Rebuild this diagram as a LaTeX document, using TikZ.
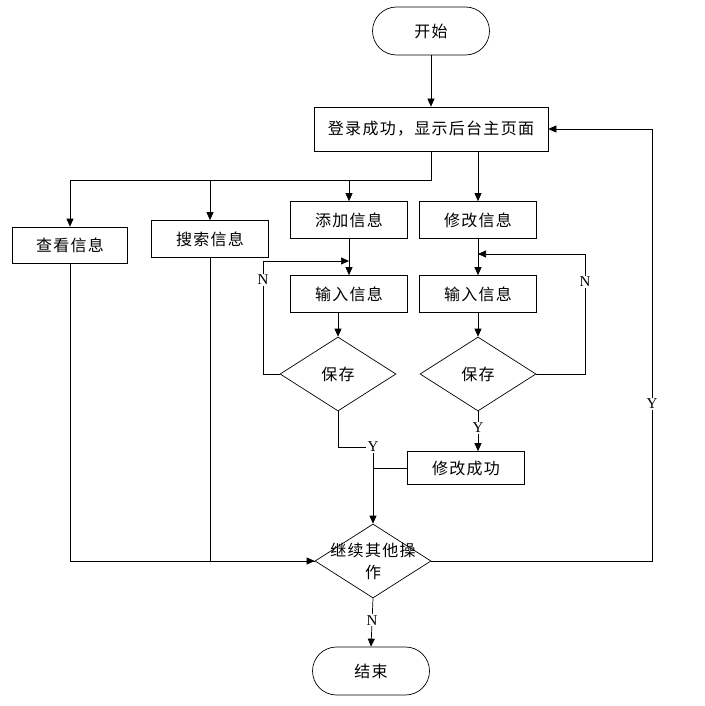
\documentclass[tikz,border=0pt]{standalone}
\usepackage{fontspec}
\setmainfont{Liberation Serif}
\newfontfamily\cjk[LetterSpace=8]{Noto Sans CJK SC}
\usetikzlibrary{shapes.geometric,arrows.meta}

\begin{document}
\begin{tikzpicture}[x=1pt,y=-1pt,>={Triangle[length=8pt,width=7pt]},line width=0.7pt]
	\tikzset{every node/.style={font=\cjk\fontsize{16}{22}\selectfont}}
	\tikzset{box/.style={draw,minimum width=117pt,minimum height=37pt,inner sep=0pt}}
	\tikzset{term/.style={draw,rounded corners=24pt,minimum width=117pt,minimum height=48pt,inner sep=0pt}}
	\tikzset{dec/.style={draw,diamond,minimum width=116pt,minimum height=74pt,inner sep=0pt}}
	\tikzset{lbl/.style={fill=white,inner sep=1pt,font=\fontsize{15}{18}\selectfont}}
	\useasboundingbox (0,0) rectangle (704,706);

	% nodes
	\node[term] (start) at (431,31) {开始};
	\node[box,minimum width=234pt,minimum height=44pt] (login) at (431,129) {登录成功，显示后台主页面};
	\node[box,minimum width=115pt,minimum height=36pt] (view) at (70,245) {查看信息};
	\node[box] (search) at (210,239) {搜索信息};
	\node[box] (add) at (349,220) {添加信息};
	\node[box] (edit) at (478,220) {修改信息};
	\node[box] (in1) at (349,294) {输入信息};
	\node[box] (in2) at (478,294) {输入信息};
	\node[dec] (save1) at (338,374) {保存};
	\node[dec] (save2) at (478,374) {保存};
	\node[box,minimum height=33pt] (ok) at (466,468) {修改成功};
	\node[dec,label={[align=center]center:继续其他操\\作}] (cont) at (373,561) {};
	\node[term] (stop) at (371,671) {结束};

	% top part
	\draw[->] (start) -- (login);
	\coordinate (split) at (431,180);
	\draw (login.south) -- (split) -- (view.north |- split);
	\draw[->] (view.north |- split) -- (view.north);
	\draw[->] (search.north |- split) -- (search.north);
	\draw[->] (add.north |- split) -- (add.north);
	\draw[->] (login.south -| edit) -- (edit.north);

	% add branch
	\draw[->] (add) -- (in1);
	\draw[->] (in1.south -| save1) -- (save1.north);
	\coordinate (n1turn) at (263,261);
	\draw[->] (save1.west) -| (n1turn) -- (in1.north |- n1turn);
	\node[lbl] (n1) at (263,280) {N};
	\node[lbl] (y1) at (373,447) {Y};
	\draw (save1.south) |- (y1.west);
	\draw[->] (y1.south) -- (cont.north);

	% edit branch
	\draw[->] (edit) -- (in2);
	\draw[->] (in2) -- (save2);
	\coordinate (n2turn) at (585,254);
	\draw[->] (save2.east) -| (n2turn) -- (edit.south |- n2turn);
	\node[lbl] (n2) at (585,282) {N};
	\draw[->] (save2.south) -- node[lbl,pos=0.42] (y2) {Y} (ok.north -| save2);
	\draw (ok.west) -- (ok.west -| y1);

	% bottom part
	\draw (view.south) |- (cont.west);
	\draw[->] (search.south) |- (cont.west);
	\coordinate (back) at (652,129);
	\draw[->] (cont.east) -| (back) -- (login.east);
	\node[lbl] (yback) at (652,404) {Y};
	\draw[->] (cont.south) -- node[lbl,pos=0.45] (nend) {N} (stop.north);
\end{tikzpicture}
\end{document}
